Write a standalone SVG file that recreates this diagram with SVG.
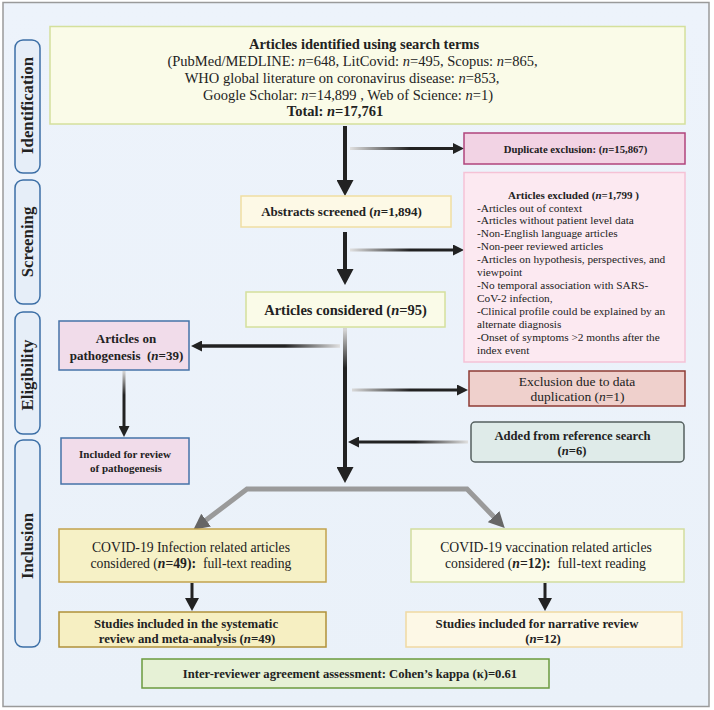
<svg xmlns="http://www.w3.org/2000/svg" width="714" height="710" viewBox="0 0 714 710">
<style>
text{font-family:"Liberation Serif","Times New Roman",serif;fill:#222}
.b{font-weight:bold}
.i{font-style:italic}
.side{fill:#e6eef8;stroke:#3c6fa6;stroke-width:1.5}
.sl{font-size:16.8px;font-weight:bold;text-anchor:middle}
.c{text-anchor:middle}
.dark{stroke:#222;fill:none}
</style>
<defs>
<linearGradient id="bg" x1="0" y1="0" x2="0" y2="1">
<stop offset="0" stop-color="#edf3fb"/><stop offset="1" stop-color="#eaf1f9"/>
</linearGradient>
<marker id="big" markerUnits="userSpaceOnUse" markerWidth="16" markerHeight="17" refX="2" refY="8.5" orient="auto"><path d="M0,0 L16,8.5 L0,17 z" fill="#222"/></marker>
<marker id="mid" markerUnits="userSpaceOnUse" markerWidth="13" markerHeight="14" refX="2" refY="7" orient="auto"><path d="M0,0 L13,7 L0,14 z" fill="#222"/></marker>
<marker id="sm" markerUnits="userSpaceOnUse" markerWidth="11" markerHeight="11" refX="1" refY="5.5" orient="auto"><path d="M0,0 L11,5.5 L0,11 z" fill="#222"/></marker>
<marker id="gray" markerUnits="userSpaceOnUse" markerWidth="16" markerHeight="16" refX="2" refY="8" orient="auto"><path d="M0,0 L16,8 L0,16 z" fill="#666"/></marker>
<linearGradient id="gR1" gradientUnits="userSpaceOnUse" x1="350" y1="0" x2="410" y2="0"><stop offset="0" stop-color="#e0e0e0"/><stop offset="1" stop-color="#222"/></linearGradient>
<linearGradient id="gL1" gradientUnits="userSpaceOnUse" x1="340" y1="0" x2="285" y2="0"><stop offset="0" stop-color="#e0e0e0"/><stop offset="1" stop-color="#222"/></linearGradient>
<linearGradient id="gL2" gradientUnits="userSpaceOnUse" x1="468" y1="0" x2="415" y2="0"><stop offset="0" stop-color="#e0e0e0"/><stop offset="1" stop-color="#222"/></linearGradient>
<linearGradient id="gD1" gradientUnits="userSpaceOnUse" x1="0" y1="330" x2="0" y2="368"><stop offset="0" stop-color="#d4d4d4"/><stop offset="1" stop-color="#222"/></linearGradient>
<linearGradient id="gD2" gradientUnits="userSpaceOnUse" x1="0" y1="372" x2="0" y2="395"><stop offset="0" stop-color="#d0d0d0"/><stop offset="1" stop-color="#222"/></linearGradient>
</defs>

<rect x="3" y="2.5" width="706" height="704" fill="url(#bg)" stroke="#9a9a9a" stroke-width="1.5"/>

<g id="lbl-identification"><rect class="side" x="15" y="40" width="25" height="133" rx="8"/><text class="sl" transform="translate(33,105.5) rotate(-90)">Identification</text></g>
<g id="lbl-screening"><rect class="side" x="15" y="180" width="25" height="124" rx="8"/><text class="sl" transform="translate(33,242) rotate(-90)">Screening</text></g>
<g id="lbl-eligibility"><rect class="side" x="15" y="312" width="25" height="122" rx="8"/><text class="sl" transform="translate(33,375) rotate(-90)">Eligibility</text></g>
<g id="lbl-inclusion"><rect class="side" x="15" y="440" width="25" height="207" rx="8"/><text class="sl" transform="translate(33,546) rotate(-90)">Inclusion</text></g>

<g id="connectors">
<line class="dark" x1="345" y1="126" x2="345" y2="182" stroke-width="4" marker-end="url(#big)"/>
<line x1="350" y1="148.5" x2="454" y2="148.5" stroke="url(#gR1)" stroke-width="3" marker-end="url(#sm)"/>
<line class="dark" x1="345" y1="232" x2="345" y2="271" stroke-width="4" marker-end="url(#big)"/>
<line x1="350" y1="250" x2="454" y2="250" stroke="url(#gR1)" stroke-width="3" marker-end="url(#sm)"/>
<line x1="345" y1="328" x2="345" y2="469" stroke="url(#gD1)" stroke-width="4" marker-end="url(#big)"/>
<line x1="340" y1="346" x2="201" y2="346" stroke="url(#gL1)" stroke-width="3.5" marker-end="url(#sm)"/>
<line x1="124" y1="371" x2="124" y2="427" stroke="url(#gD2)" stroke-width="3" marker-end="url(#sm)"/>
<line x1="352" y1="390" x2="458" y2="390" stroke="url(#gR1)" stroke-width="3" marker-end="url(#sm)"/>
<line x1="468" y1="442" x2="358" y2="442" stroke="url(#gL2)" stroke-width="3" marker-end="url(#sm)"/>
<path d="M345,489 H247 L204.5,521.3" fill="none" stroke="#9a9a9a" stroke-width="5" marker-end="url(#gray)"/>
<path d="M345,489 H467 L495,518" fill="none" stroke="#9a9a9a" stroke-width="5" marker-end="url(#gray)"/>
<line class="dark" x1="192" y1="583" x2="192" y2="600" stroke-width="3" marker-end="url(#mid)"/>
<line class="dark" x1="545" y1="583" x2="545" y2="600" stroke-width="3" marker-end="url(#mid)"/>
</g>

<g id="n-identified">
<rect x="50" y="26.5" width="635" height="97.5" fill="#fafbe8" stroke="#d4e09c" stroke-width="1.5"/>
<text class="c b" x="364" y="48.5" font-size="14.5">Articles identified using search terms</text>
<text class="c" x="352.5" y="66" font-size="14.5">(PubMed/MEDLINE: <tspan class="i">n</tspan>=648, LitCovid: <tspan class="i">n</tspan>=495, Scopus: <tspan class="i">n</tspan>=865,</text>
<text class="c" x="342" y="82.5" font-size="14.5">WHO global literature on coronavirus disease: <tspan class="i">n</tspan>=853,</text>
<text class="c" x="348" y="99.5" font-size="14.5">Google Scholar: <tspan class="i">n</tspan>=14,899 , Web of Science: <tspan class="i">n</tspan>=1)</text>
<text class="c b" x="335" y="116" font-size="14.5">Total: <tspan class="i">n</tspan>=17,761</text>
</g>

<g id="n-duplicate">
<rect x="464" y="133" width="221" height="31" fill="#f2d3e4" stroke="#b0447c" stroke-width="1.5"/>
<text class="c b" x="575.5" y="152.5" font-size="10.7">Duplicate exclusion: (<tspan class="i">n</tspan>=15,867)</text>
</g>

<g id="n-abstracts">
<rect x="241" y="196" width="210" height="31" fill="#fdf9e6" stroke="#efdea2" stroke-width="1.5"/>
<text class="c b" x="341.5" y="216" font-size="13">Abstracts screened (<tspan class="i">n</tspan>=1,894)</text>
</g>

<g id="n-excluded">
<rect x="464" y="172.5" width="221" height="189.5" fill="#fce9f1" stroke="#f5c2d6" stroke-width="1.5"/>
<text class="c b" x="573.5" y="199" font-size="11">Articles excluded (<tspan class="i">n</tspan>=1,799 )</text>
<g font-size="11.3">
<text x="477" y="211.5">-Articles out of context</text>
<text x="477" y="224">-Articles without patient level data</text>
<text x="477" y="236.5">-Non-English language articles</text>
<text x="477" y="249.5">-Non-peer reviewed articles</text>
<text x="477" y="263">-Articles on hypothesis, perspectives, and</text>
<text x="477" y="276">viewpoint</text>
<text x="477" y="288.5">-No temporal association with SARS-</text>
<text x="477" y="301.5">CoV-2 infection,</text>
<text x="477" y="315">-Clinical profile could be explained by an</text>
<text x="477" y="328">alternate diagnosis</text>
<text x="477" y="340.5">-Onset of symptoms &gt;2 months after the</text>
<text x="477" y="353.5">index event</text>
</g>
</g>

<g id="n-considered">
<rect x="246" y="292" width="199" height="35" fill="#fafbe8" stroke="#d4e09c" stroke-width="1.5"/>
<text class="c b" x="345.5" y="314.5" font-size="14.5">Articles considered (<tspan class="i">n</tspan>=95)</text>
</g>

<g id="n-pathogenesis">
<rect x="59" y="321" width="130" height="49" fill="#f1dcea" stroke="#4673a8" stroke-width="1.5"/>
<text class="c b" x="126" y="343" font-size="13">Articles on</text>
<text class="c b" x="126.5" y="360" font-size="13" xml:space="preserve">pathogenesis  (<tspan class="i">n</tspan>=39)</text>
</g>

<g id="n-review-patho">
<rect x="61" y="438" width="128" height="46" fill="#f1dcea" stroke="#4673a8" stroke-width="1.5"/>
<text class="c b" x="125" y="458" font-size="11">Included for review</text>
<text class="c b" x="126" y="472" font-size="11">of pathogenesis</text>
</g>

<g id="n-exclusion-dup">
<rect x="469" y="371" width="216" height="35" fill="#efd0cc" stroke="#8e3b34" stroke-width="1.5"/>
<text class="c" x="577" y="386" font-size="13.5">Exclusion due to data</text>
<text class="c" x="577.5" y="401" font-size="13.5">duplication (<tspan class="i">n</tspan>=1)</text>
</g>

<g id="n-added">
<rect x="471" y="422" width="213" height="40" rx="4" fill="#dfebe9" stroke="#55605f" stroke-width="1.5"/>
<text class="c b" x="572.5" y="439.5" font-size="12.6">Added from reference search</text>
<text class="c b" x="572" y="455" font-size="12.6">(<tspan class="i">n</tspan>=6)</text>
</g>

<g id="n-infection">
<rect x="59" y="529" width="267" height="53" fill="#f6f1c6" stroke="#c2a24e" stroke-width="1.5"/>
<text class="c" x="191" y="552" font-size="13.7">COVID-19 Infection related articles</text>
<text class="c" x="191" y="567.5" font-size="13.7" xml:space="preserve">considered (<tspan class="b i">n</tspan><tspan class="b">=49):</tspan>  full-text reading</text>
</g>

<g id="n-vaccination">
<rect x="411" y="529" width="273" height="53" fill="#fbfbe8" stroke="#d2dd9e" stroke-width="1.5"/>
<text class="c" x="546" y="552" font-size="13.7">COVID-19 vaccination related articles</text>
<text class="c" x="545.5" y="567.5" font-size="13.7" xml:space="preserve">considered (<tspan class="b i">n</tspan><tspan class="b">=12):</tspan>  full-text reading</text>
</g>

<g id="n-systematic">
<rect x="59" y="612" width="267" height="35" fill="#f6efc2" stroke="#b0913a" stroke-width="1.5"/>
<text class="c b" x="186" y="627.5" font-size="12.8">Studies included in the systematic</text>
<text class="c b" x="187" y="642.5" font-size="12.8">review and meta-analysis (<tspan class="i">n</tspan>=49)</text>
</g>

<g id="n-narrative">
<rect x="406" y="612" width="276" height="35" fill="#fdf8e6" stroke="#f0d9a2" stroke-width="1.5"/>
<text class="c b" x="537" y="627.5" font-size="12.8">Studies included for narrative review</text>
<text class="c b" x="543" y="642.5" font-size="12.8">(<tspan class="i">n</tspan>=12)</text>
</g>

<g id="n-kappa">
<rect x="142" y="659" width="407" height="29" fill="#e6f1d6" stroke="#6b9a3e" stroke-width="1.5"/>
<text class="c b" x="350" y="678" font-size="12.6">Inter-reviewer agreement assessment: Cohen’s kappa (κ)=0.61</text>
</g>
</svg>
